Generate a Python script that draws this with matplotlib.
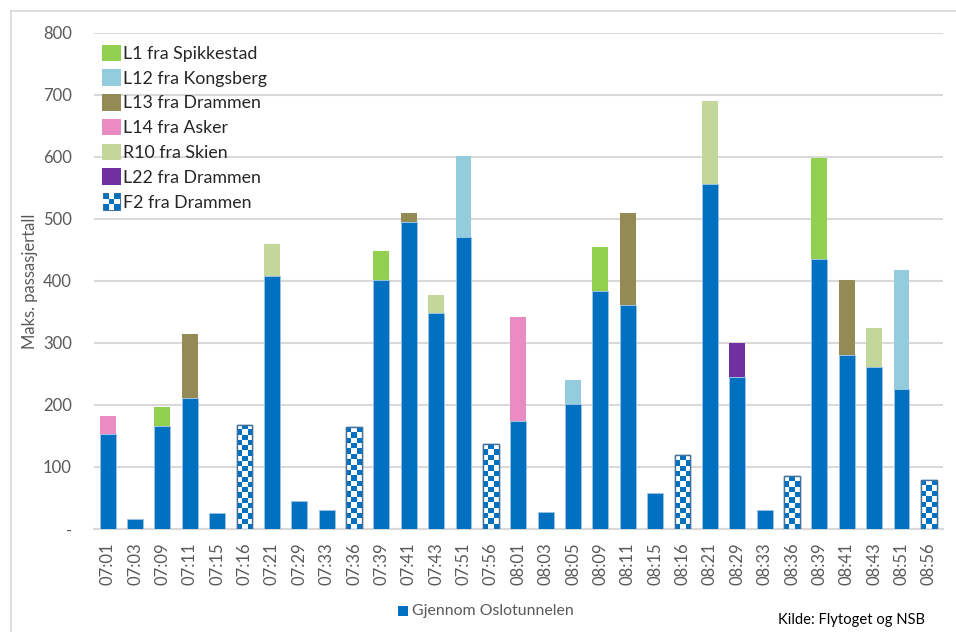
import numpy as np
import matplotlib
matplotlib.use("Agg")
import matplotlib.pyplot as plt
from matplotlib.patches import Rectangle
from matplotlib.lines import Line2D
from matplotlib.legend_handler import HandlerBase

plt.rcParams['font.family'] = ['Lato', 'DejaVu Sans']

times = ["07:01", "07:03", "07:09", "07:11", "07:15", "07:16", "07:21", "07:29",
         "07:33", "07:36", "07:39", "07:41", "07:43", "07:51", "07:56", "08:01",
         "08:03", "08:05", "08:09", "08:11", "08:15", "08:16", "08:21", "08:29",
         "08:33", "08:36", "08:39", "08:41", "08:43", "08:51", "08:56"]

gjennom = [153, 16, 166, 211, 26, 0, 408, 45, 30, 0, 402, 495, 348, 471, 0, 174,
           27, 202, 384, 361, 58, 0, 556, 245, 31, 0, 435, 281, 261, 226, 0]
l1 = [0, 0, 31, 0, 0, 0, 0, 0, 0, 0, 46, 0, 0, 0, 0, 0,
      0, 0, 71, 0, 0, 0, 0, 0, 0, 0, 163, 0, 0, 0, 0]
l12 = [0, 0, 0, 0, 0, 0, 0, 0, 0, 0, 0, 0, 0, 131, 0, 0,
       0, 39, 0, 0, 0, 0, 0, 0, 0, 0, 0, 0, 0, 192, 0]
l13 = [0, 0, 0, 103, 0, 0, 0, 0, 0, 0, 0, 15, 0, 0, 0, 0,
       0, 0, 0, 149, 0, 0, 0, 0, 0, 0, 0, 120, 0, 0, 0]
l14 = [29, 0, 0, 0, 0, 0, 0, 0, 0, 0, 0, 0, 0, 0, 0, 168,
       0, 0, 0, 0, 0, 0, 0, 0, 0, 0, 0, 0, 0, 0, 0]
r10 = [0, 0, 0, 0, 0, 0, 52, 0, 0, 0, 0, 0, 29, 0, 0, 0,
       0, 0, 0, 0, 0, 0, 134, 0, 0, 0, 0, 0, 63, 0, 0]
l22 = [0, 0, 0, 0, 0, 0, 0, 0, 0, 0, 0, 0, 0, 0, 0, 0,
       0, 0, 0, 0, 0, 0, 0, 55, 0, 0, 0, 0, 0, 0, 0]
f2 = [0, 0, 0, 0, 0, 168, 0, 0, 0, 164, 0, 0, 0, 0, 137, 0,
      0, 0, 0, 0, 0, 119, 0, 0, 0, 85, 0, 0, 0, 0, 79]

series = [
    ("L1 fra Spikkestad", l1, "#92d050"),
    ("L12 fra Kongsberg", l12, "#93cddd"),
    ("L13 fra Drammen", l13, "#948a54"),
    ("L14 fra Asker", l14, "#ea8cc3"),
    ("R10 fra Skien", r10, "#c4d79b"),
    ("L22 fra Drammen", l22, "#7030a0"),
]

BLUE = "#0070c0"
GRAY_TXT = "#595959"
GRID = "#d9d9d9"

fig = plt.figure(figsize=(9.56, 6.32), dpi=100)
ax = fig.add_axes([0.0983, 0.163, 0.8877, 0.785])

x = np.arange(len(times))
w = 0.58

base = np.array(gjennom, dtype=float)
ax.bar(x, base, w, color=BLUE, edgecolor="#9dc3e6", linewidth=0.6, zorder=3)
bottom = base.copy()
handles = []
for name, vals, col in series:
    v = np.array(vals, dtype=float)
    ax.bar(x, v, w, bottom=bottom, color=col, linewidth=0, zorder=3)
    bottom += v
    handles.append(Rectangle((0, 0), 1, 1, facecolor=col, edgecolor='none', label=name))

# F2 bars with a blue/white checker fill
f2v = np.array(f2, dtype=float)
px_per_unit = 0.62
sq_px = 5.3
blue_rgb = np.array(matplotlib.colors.to_rgb(BLUE))
for xi, v in zip(x, f2v):
    if v <= 0:
        continue
    rect = Rectangle((xi - w / 2, 0), w, v, facecolor="white", edgecolor="#41719c",
                     linewidth=1.0, zorder=3)
    ax.add_patch(rect)
    nrows = max(1, int(round(v * px_per_unit / sq_px)))
    ncols = 3
    pat = np.add.outer(np.arange(nrows), np.arange(ncols)) % 2
    img = np.where(pat[..., None] == 0, blue_rgb, np.ones(3))
    im = ax.imshow(img, extent=(xi - w / 2, xi + w / 2, 0, v), aspect='auto',
                   interpolation='nearest', zorder=3.5, origin='lower')
    im.set_clip_path(rect)
    edge = Rectangle((xi - w / 2, 0), w, v, facecolor="none", edgecolor="#41719c",
                     linewidth=1.0, zorder=4)
    ax.add_patch(edge)


class CheckerHandle(Rectangle):
    pass


class HandlerChecker(HandlerBase):
    def create_artists(self, legend, orig_handle, xdescent, ydescent, width, height,
                       fontsize, trans):
        arts = []
        s = min(width, height)
        x0 = -xdescent + (width - s) / 2
        y0 = -ydescent + (height - s) / 2
        bg = Rectangle((x0, y0), s, s, facecolor=BLUE, edgecolor="#41719c",
                       linewidth=0.8, transform=trans)
        arts.append(bg)
        c = s / 3
        for (i, j) in [(0, 1), (1, 0), (1, 2), (2, 1)]:
            arts.append(Rectangle((x0 + i * c, y0 + j * c), c, c, facecolor="white",
                                  edgecolor='none', transform=trans))
        return arts


f2_handle = CheckerHandle((0, 0), 1, 1, label="F2 fra Drammen")
handles.append(f2_handle)

leg = ax.legend(handles=handles, loc="upper left", bbox_to_anchor=(-0.003, 0.998),
                frameon=False, fontsize=12.8, handlelength=1.05, handleheight=1.05,
                handletextpad=0.1, labelspacing=0.42, borderaxespad=0.3,
                borderpad=0.3,
                handler_map={CheckerHandle: HandlerChecker()})
for t in leg.get_texts():
    t.set_color("#262626")

ax.set_xlim(-0.5, len(times) - 0.5)
ax.set_ylim(0, 800)
ax.set_yticks(np.arange(0, 801, 100))
ax.set_yticklabels(["-"] + [str(v) for v in range(100, 801, 100)])
ax.set_xticks(x)
ax.set_xticklabels(times, rotation=90)
ax.tick_params(axis='both', length=0, colors=GRAY_TXT, labelsize=12)
ax.tick_params(axis='y', pad=16)
ax.tick_params(axis='x', pad=10)
ax.yaxis.grid(True, color=GRID, linewidth=1.5, zorder=0)
ax.set_axisbelow(True)
for s in ["top", "right", "left"]:
    ax.spines[s].set_visible(False)
ax.spines["bottom"].set_color(GRID)
ax.spines["bottom"].set_linewidth(1.5)

ax.set_ylabel("Maks. passasjertall", fontsize=12, color=GRAY_TXT)
ax.yaxis.set_label_coords(-0.066, 0.5)

# bottom legend for the main series
fig.patches.append(Rectangle((398 / 956, 1 - 615.5 / 632), 10 / 956, 10 / 632,
                             transform=fig.transFigure, facecolor=BLUE,
                             edgecolor='none'))
fig.text(412 / 956, 1 - 611 / 632, "Gjennom Oslotunnelen", fontsize=11.4,
         color=GRAY_TXT, va="center", ha="left")
fig.text(778 / 956, 1 - 620 / 632, "Kilde: Flytoget og NSB", fontsize=10.6,
         color="black", va="center", ha="left")

# chart-area border
fig.lines.append(Line2D([10.5 / 956, 10.5 / 956], [0, 1 - 10.5 / 632],
                        transform=fig.transFigure, color=GRID, linewidth=1.2))
fig.lines.append(Line2D([10.5 / 956, 1], [1 - 10.5 / 632, 1 - 10.5 / 632],
                        transform=fig.transFigure, color=GRID, linewidth=1.2))

fig.savefig("out.png", dpi=100, facecolor="white")
